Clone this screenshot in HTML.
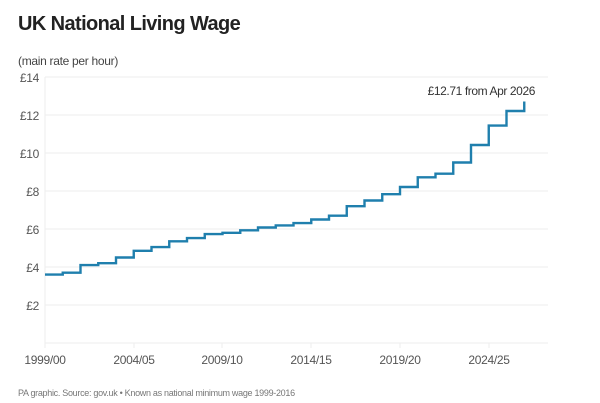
<!DOCTYPE html>
<html><head><meta charset="utf-8"><style>
html,body{margin:0;padding:0;background:#fff;width:600px;height:403px;overflow:hidden}
svg{display:block;font-family:"Liberation Sans",sans-serif}
</style></head><body>
<svg width="600" height="403" viewBox="0 0 600 403">
<text x="18" y="30" font-size="20" font-weight="bold" fill="#222" letter-spacing="-0.6">UK National Living Wage</text>
<text x="18" y="65" font-size="12" fill="#444" letter-spacing="-0.3">(main rate per hour)</text>
<g stroke="#eeeeee" stroke-width="1">
<line x1="45" x2="548" y1="77" y2="77"/>
<line x1="45" x2="548" y1="115" y2="115"/>
<line x1="45" x2="548" y1="153" y2="153"/>
<line x1="45" x2="548" y1="191" y2="191"/>
<line x1="45" x2="548" y1="229" y2="229"/>
<line x1="45" x2="548" y1="267" y2="267"/>
<line x1="45" x2="548" y1="305" y2="305"/>
<line x1="45" x2="548" y1="343" y2="343"/>
<line x1="45" x2="45" y1="77" y2="348"/>
<line x1="134" x2="134" y1="343" y2="348"/>
<line x1="222" x2="222" y1="343" y2="348"/>
<line x1="311" x2="311" y1="343" y2="348"/>
<line x1="400" x2="400" y1="343" y2="348"/>
<line x1="489" x2="489" y1="343" y2="348"/>
</g>
<g font-size="12" fill="#555" text-anchor="end" letter-spacing="-0.3">
<text x="39" y="82">£14</text>
<text x="39" y="120">£12</text>
<text x="39" y="158">£10</text>
<text x="39" y="196">£8</text>
<text x="39" y="234">£6</text>
<text x="39" y="272">£4</text>
<text x="39" y="310">£2</text>
</g>
<g font-size="12" fill="#555" text-anchor="middle" letter-spacing="-0.3">
<text x="45" y="364">1999/00</text>
<text x="134" y="364">2004/05</text>
<text x="222" y="364">2009/10</text>
<text x="311" y="364">2014/15</text>
<text x="400" y="364">2019/20</text>
<text x="489" y="364">2024/25</text>
</g>
<text x="535" y="95" font-size="12" fill="#333" text-anchor="end" letter-spacing="-0.4">£12.71 from Apr 2026</text>
<path fill="none" stroke="#1f7fad" stroke-width="2.4" d="M45 274.6H62.75V272.7H80.5V265.1H98.25V263.2H116V257.5H133.75V250.85H151.5V247.05H169.25V241.35H187V238.1H204.75V234.1H222.5V232.8H240.25V230.3H258V227.5H275.75V225.4H293.5V223.1H311.25V219.5H329V215.7H346.75V206.2H364.5V200.5H382.25V194.2H400V187H417.75V177.3H435.5V173.7H453.25V162.5H471V145H488.75V125.6H506.5V111H524.25V101.5"/>
<text x="18" y="396" font-size="9" fill="#777" letter-spacing="-0.3">PA graphic. Source: gov.uk • Known as national minimum wage 1999-2016</text>
</svg>
</body></html>
